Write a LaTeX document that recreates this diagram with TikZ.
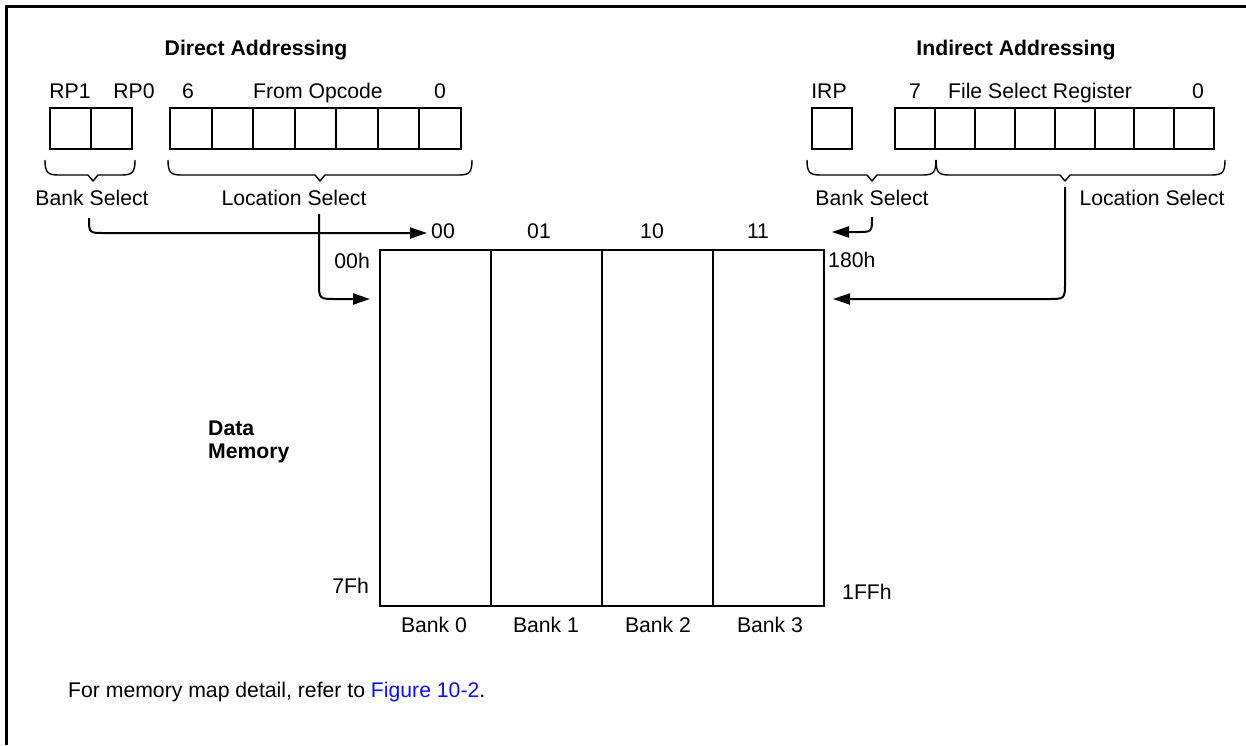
\documentclass[tikz,border=0pt]{standalone}
\usepackage{fontspec}
\setmainfont{Liberation Sans}
\usetikzlibrary{arrows.meta}
\definecolor{linkblue}{RGB}{15,15,250}
\begin{document}
\begin{tikzpicture}[x=1pt,y=-1pt,
  lbl/.style={inner sep=0pt, anchor=base, font=\fontsize{21.2}{23}\selectfont},
  hdr/.style={inner sep=0pt, anchor=base, font=\fontsize{21.2}{23}\selectfont\bfseries},
  cellline/.style={line width=2pt},
  membox/.style={line width=2.2pt},
  bracestyle/.style={line width=1.4pt, line join=round},
  conn/.style={line width=2pt, -{Triangle[length=17pt,width=11pt]}},
  ]
\useasboundingbox (0,0) rectangle (1246,745);
% frame
\draw[line width=3pt] (6.5,745) -- (6.5,6.5) -- (1246,6.5);

% headers
\node[hdr] (dirh) at (256,55) {Direct Addressing};
\node[hdr] (indh) at (1016,55) {Indirect Addressing};

% register labels
\node[lbl] (rp1) at (70,98) {RP1};
\node[lbl] (rp0) at (134,98) {RP0};
\node[lbl] (bsix) at (188,98) {6};
\node[lbl] (fop) at (318,98) {From Opcode};
\node[lbl] (bzeroa) at (440,98) {0};
\node[lbl] (irp) at (829,98) {IRP};
\node[lbl] (bseven) at (915,98) {7};
\node[lbl] (fsr) at (1040,98) {File Select Register};
\node[lbl] (bzerob) at (1198,98) {0};

% register cells
\foreach \i in {0,1} {
  \draw[cellline] ({50+41*\i},108) rectangle ({91+41*\i},149);
}
\foreach \i in {0,...,6} {
  \draw[cellline] ({170+41.57*\i},108) rectangle ({211.57+41.57*\i},149);
}
\draw[cellline] (812,108) rectangle (852,149);
\foreach \i in {0,...,7} {
  \draw[cellline] ({895+39.9*\i},108) rectangle ({934.9+39.9*\i},149);
}

% braces
\foreach \xa/\xm/\xb in {45/93/135, 168/320/472, 807/872/936, 936/1065/1225} {
  \draw[bracestyle] (\xa,160) .. controls (\xa,173) and (\xa+3,175) .. (\xa+14,175)
     -- (\xm-5,175) -- (\xm,181) -- (\xm+5,175) -- (\xb-14,175)
     .. controls (\xb-3,175) and (\xb,173) .. (\xb,160);
}

% select labels
\node[lbl] (bsl) at (92,205) {Bank Select};
\node[lbl] (lsl) at (294,205) {Location Select};
\node[lbl] (bsr) at (872,205) {Bank Select};
\node[lbl] (lsr) at (1152,205) {Location Select};

% bank codes
\node[lbl] (cA) at (443,238) {00};
\node[lbl] (cB) at (539,238) {01};
\node[lbl] (cC) at (652,238) {10};
\node[lbl] (cD) at (758,238) {11};

% memory box
\draw[membox] (380,250) rectangle (824,606);
\foreach \x in {491,602,713} {
  \draw[membox] (\x,250) -- (\x,606);
}

% addresses
\node[lbl, anchor=base east] (a00) at (370,268) {00h};
\node[lbl, anchor=base west] (a180) at (828,267) {180h};
\node[lbl, anchor=base east] (a7f) at (369,593) {7Fh};
\node[lbl, anchor=base west] (a1ff) at (842,599) {1FFh};

% bank names
\node[lbl] (bk0) at (434,632) {Bank 0};
\node[lbl] (bk1) at (546,632) {Bank 1};
\node[lbl] (bk2) at (658,632) {Bank 2};
\node[lbl] (bk3) at (770,632) {Bank 3};

% data memory
\node[inner sep=0pt, anchor=north west, align=left, font=\fontsize{21.2}{23}\selectfont\bfseries] (dmem) at (208,421) {Data\\Memory};

% footnote
\node[lbl, anchor=base west] (note) at (68,697) {For memory map detail, refer to \textcolor{linkblue}{Figure 10-2}.};

% connectors
\coordinate (lbstart) at (89,218);
\coordinate (lbend) at (427,233);
\coordinate (llstart) at (319,214);
\coordinate (llend) at (370,299);
\coordinate (rbstart) at (872,217);
\coordinate (rbend) at (832,232);
\coordinate (rlstart) at (1065,187);
\coordinate (rlend) at (833,299);

\draw[conn] (lbstart) .. controls (89,233) .. (105,233) -- (lbend);
\draw[conn] (llstart) -- (319,282) .. controls (319,299) .. (336,299) -- (llend);
\draw[conn] (rbstart) .. controls (872,232) .. (857,232) -- (rbend);
\draw[conn] (rlstart) -- (1065,282) .. controls (1065,299) .. (1048,299) -- (rlend);
\end{tikzpicture}
\end{document}
